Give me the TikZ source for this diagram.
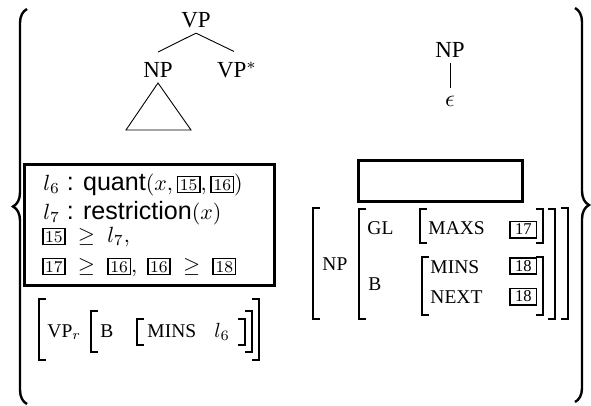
\RequirePackage{fix-cm}
\documentclass[tikz,border=0pt]{standalone}
\usepackage[no-math]{fontspec}
\setmainfont{Liberation Serif}
\setsansfont{Liberation Sans}
\usetikzlibrary{decorations.pathreplacing}

\newcommand{\numbox}[1]{{\setlength{\fboxsep}{0.7pt}\setlength{\fboxrule}{0.73pt}\fbox{\fontfamily{lmr}\fontsize{7.5}{7.5}\selectfont #1}}}
\newcommand{\semsf}[1]{{\sffamily\fontsize{11.4}{11.4}\selectfont #1}}
\newcommand{\magnify}[2]{\scalebox{#1}{\fontsize{10}{10}\selectfont #2}}
\newcommand{\avmopen}[3]{\draw[brk] (#1+7,#2) -- (#1,#2) -- (#1,#3) -- (#1+7,#3);}
\newcommand{\avmclose}[3]{\draw[brk] (#1-7,#2) -- (#1,#2) -- (#1,#3) -- (#1-7,#3);}

\tikzset{
  tree/.style={font=\fontsize{23}{23}\selectfont, inner sep=5pt},
  curly/.style={decorate, decoration={brace, amplitude=14pt}, line width=2.4pt},
  brk/.style={line width=1.1pt},
  avm/.style={font=\fontsize{19.5}{19.5}\selectfont, inner sep=0pt, anchor=base west},
  semline/.style={inner sep=0pt, anchor=base west},
  tagbox/.style={draw, line width=1.7pt, minimum width=26.3pt, minimum height=16.3pt, inner sep=0pt, font=\fontsize{16.5}{16.5}\selectfont},
  bigbox/.style={draw, line width=2.6pt}
}

\begin{document}
\begin{tikzpicture}[x=1pt,y=-1pt,line width=0.9pt]
\useasboundingbox (0,0) rectangle (591,405);
\draw[curly] (27,404) -- (27,9);
\draw[curly] (575,8) -- (575,402);

% trees
\node[tree] (vp) at (196,20) {VP};
\node[tree] (np) at (158,70) {NP};
\node[tree] (vpfoot) at (237,70) {VP\magnify{2.3}{$^*$}};
\draw (vp.south) -- ([yshift=5pt]np.north);
\draw (vp.south) -- ([yshift=5pt,xshift=-3pt]vpfoot.north);
\draw (np.south) -- ++(-32,47) -- ++(65,0) -- cycle;

\node[tree] (npe) at (450,50) {NP};
\node[tree, inner sep=7pt] (eps) at (450,101) {\magnify{2.4}{$\epsilon$}};
\draw (npe.south) -- (eps.north);

% semantics
\node[bigbox, minimum width=250.5pt, minimum height=121.5pt] (sem) at (149.5,225) {};
\node[semline] (semone) at (43,190) {\magnify{2.2}{$l_6$\semsf{ : quant}$(x, \numbox{15}, \numbox{16})$}};
\node[semline] (semtwo) at (43,219) {\magnify{2.2}{$l_7$\semsf{ : restriction}$(x)$}};
\node[semline] (semthree) at (41.5,242) {\magnify{2.2}{$\numbox{15} \;\geq\; l_7,$}};
\node[semline] (semfour) at (41.5,272) {\magnify{2.2}{$\numbox{17} \;\geq\; \numbox{16},\; \numbox{16} \;\geq\; \numbox{18}$}};
\node[bigbox, minimum width=164.5pt, minimum height=41.5pt] (glbox) at (440.5,181) {};

% feature structures
\avmopen{39}{299}{360}
\avmclose{259}{299}{360}
\avmopen{91}{311}{352}
\avmclose{252}{311}{352}
\avmopen{137}{319}{345}
\avmclose{245}{319}{345}
\node[avm] (vpr) at (47,337) {VP\magnify{1.95}{$_r$}};
\node[avm] (bl) at (100,337) {B};
\node[avm] (minsl) at (147,337) {MINS};
\node[avm] (lsix) at (214,337) {\magnify{2.05}{$l_6$}};

\avmopen{313}{208}{319}
\avmclose{568}{208}{319}
\avmopen{359}{209}{319}
\avmclose{555}{209}{319}
\avmopen{420}{209}{243}
\avmclose{543}{209}{243}
\avmopen{422}{257}{315}
\avmclose{543}{257}{315}
\node[avm] (npr) at (322,270) {NP};
\node[avm] (gl) at (367,234.5) {GL};
\node[avm] (maxs) at (428,234.5) {MAXS};
\node[tagbox] (tseventeen) at (523.3,229.5) {17};
\node[avm] (br) at (368,290) {B};
\node[avm] (minsr) at (430,273.5) {MINS};
\node[tagbox] (teighteen) at (523.3,266) {18};
\node[avm] (next) at (430,303.5) {NEXT};
\node[tagbox] (teighteenb) at (523.3,296.5) {18};
\end{tikzpicture}
\end{document}
